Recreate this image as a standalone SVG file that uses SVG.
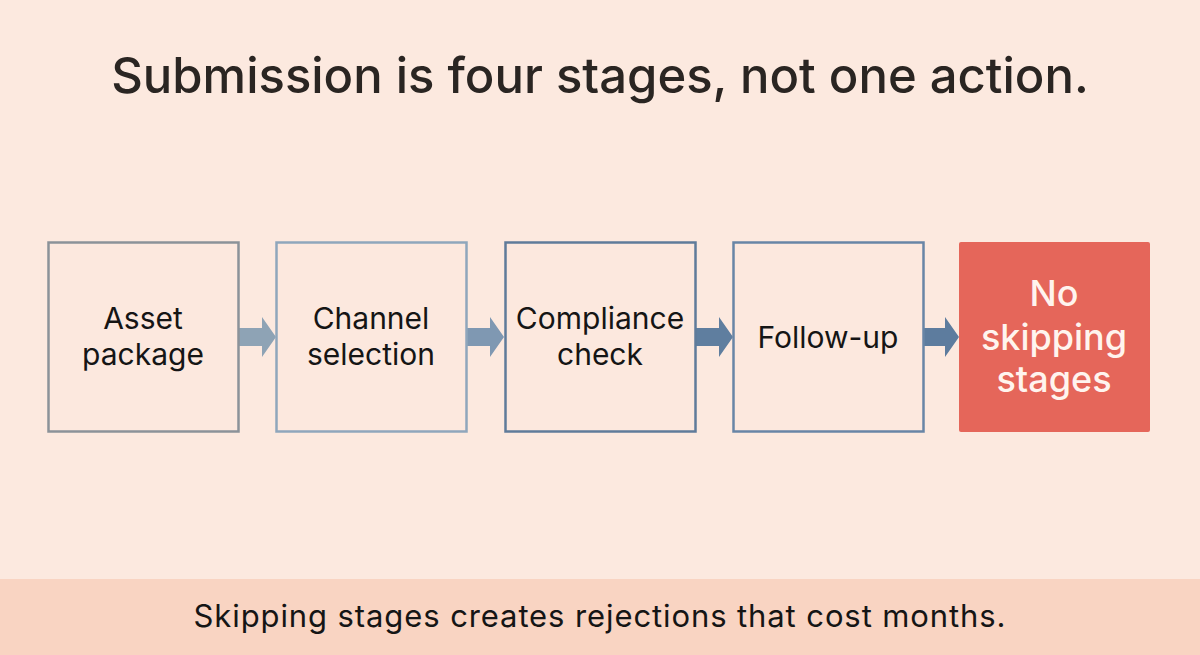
<svg xmlns="http://www.w3.org/2000/svg" width="1200" height="655" viewBox="0 0 1200 655">
<defs>
<style>
.t{font-family:"Inter","Liberation Sans",Arial,sans-serif;}
.box{fill:#FCE8DE;stroke-width:2.5}
.lbl{font-size:30px;fill:#151515;text-anchor:middle}
.wl{font-size:36px;fill:#FFF4EE;text-anchor:middle;font-weight:500}
</style>
</defs>
<rect width="1200" height="655" fill="#FCE9DF"/>
<text class="t" x="600" y="93" font-size="49" fill="#2A2522" text-anchor="middle" font-weight="500">Submission is four stages, not one action.</text>
<g id="connectors">
<path d="M239,328 H262 V317 L276,337 L262,357 V346 H239 Z" fill="#8EA3B5"/>
<path d="M467,328 H490 V317 L504,337 L490,357 V346 H467 Z" fill="#7F98B2"/>
<path d="M696,328 H719 V317 L733,337 L719,357 V346 H696 Z" fill="#5F7E9F"/>
<path d="M924,328 H945 V317 L959,337 L945,357 V346 H924 Z" fill="#5D7C9E"/>
</g>
<g id="n1">
<rect class="box" x="48.5" y="242.5" width="190" height="189" stroke="#8B9299"/>
<text class="t lbl" x="143" y="329">Asset</text>
<text class="t lbl" x="143" y="365">package</text>
</g>
<g id="n2">
<rect class="box" x="276.5" y="242.5" width="190" height="189" stroke="#8FA6BC"/>
<text class="t lbl" x="371" y="329">Channel</text>
<text class="t lbl" x="371" y="365">selection</text>
</g>
<g id="n3">
<rect class="box" x="505.5" y="242.5" width="190" height="189" stroke="#5F7B9A"/>
<text class="t lbl" x="600" y="329">Compliance</text>
<text class="t lbl" x="600" y="365">check</text>
</g>
<g id="n4">
<rect class="box" x="733.5" y="242.5" width="190" height="189" stroke="#6885A6"/>
<text class="t lbl" x="828" y="348">Follow-up</text>
</g>
<g id="n5">
<rect x="959" y="242" width="191" height="190" rx="2" fill="#E5665A"/>
<text class="t wl" x="1054" y="306">No</text>
<text class="t wl" x="1054" y="350">skipping</text>
<text class="t wl" x="1054" y="392">stages</text>
</g>
<rect x="0" y="579" width="1200" height="76" fill="#F9D4C2"/>
<text class="t" x="600" y="627" font-size="31" letter-spacing="0.9" fill="#151515" text-anchor="middle">Skipping stages creates rejections that cost months.</text>
</svg>
